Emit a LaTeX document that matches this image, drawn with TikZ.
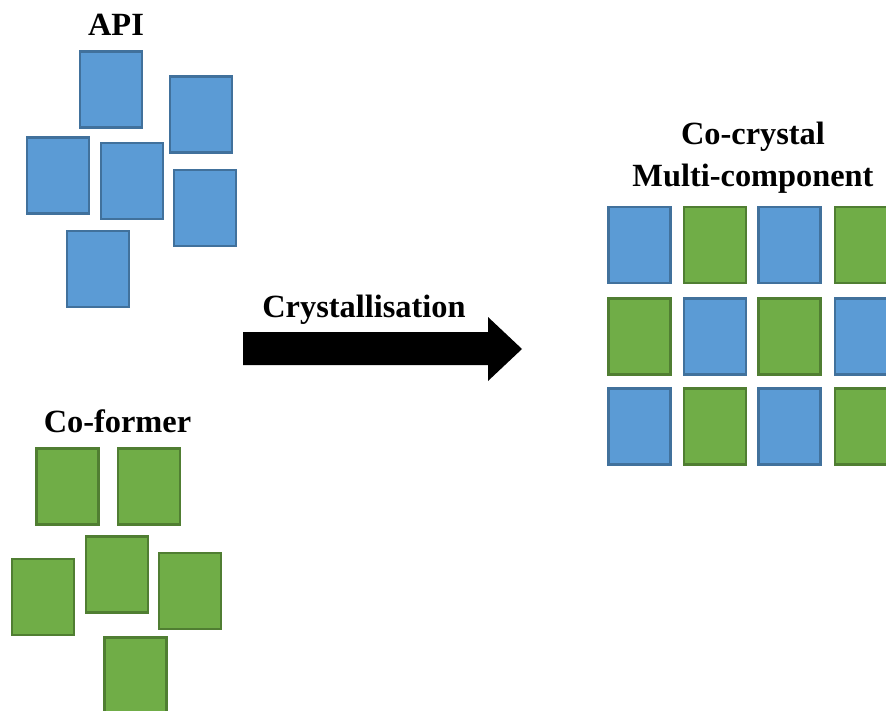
\documentclass[tikz,border=0pt]{standalone}
\usepackage{fontspec}
\setmainfont{Liberation Serif}
\definecolor{apifill}{HTML}{5B9BD5}
\definecolor{apiedge}{HTML}{41719C}
\definecolor{cofill}{HTML}{70AD47}
\definecolor{coedge}{HTML}{507E32}
\begin{document}
\begin{tikzpicture}[x=1bp,y=-1bp,
  sq/.style={line width=2.2bp, minimum width=62bp, minimum height=76bp, inner sep=0pt, outer sep=0pt},
  bsq/.style={sq, draw=apiedge, fill=apifill},
  gsq/.style={sq, draw=coedge, fill=cofill},
  lbl/.style={font=\bfseries\fontsize{32.5}{41}\selectfont, inner sep=0pt, anchor=base}]
\useasboundingbox (0,0) rectangle (886,711);
\clip (0,0) rectangle (886,711);
% labels
\node[lbl] (api) at (116,36) {API};
\node[lbl] (coformer) at (117.5,432) {Co-former};
\node[lbl] (cryst) at (364,317) {Crystallisation};
\node[lbl] (cocrystal) at (753,145) {Co-crystal};
\node[lbl] (multi) at (753,186) {Multi-component};
% API molecules
\node[bsq] (a1) at (111,89.5) {};
\node[bsq] (a2) at (201,114.5) {};
\node[bsq] (a3) at (58,175.5) {};
\node[bsq] (a4) at (132,181) {};
\node[bsq] (a5) at (205,208) {};
\node[bsq] (a6) at (98,269) {};
% co-former molecules
\node[gsq] (c1) at (67.5,486.5) {};
\node[gsq] (c2) at (149,486.5) {};
\node[gsq] (c3) at (117,574.5) {};
\node[gsq] (c4) at (43,597) {};
\node[gsq] (c5) at (190,591) {};
\node[gsq] (c6) at (135.5,675.5) {};
% arrow
\fill[black] (243,332) -- (488,332) -- (488,317) -- (522,349) -- (488,381) -- (488,365) -- (243,365) -- cycle;
% co-crystal grid
\node[bsq] (g11) at (639.5,245) {};
\node[gsq] (g12) at (715,245) {};
\node[bsq] (g13) at (789.5,245) {};
\node[gsq] (g14) at (866,245) {};
\node[gsq] (g21) at (639.5,336.5) {};
\node[bsq] (g22) at (715,336.5) {};
\node[gsq] (g23) at (789.5,336.5) {};
\node[bsq] (g24) at (866,336.5) {};
\node[bsq] (g31) at (639.5,426.5) {};
\node[gsq] (g32) at (715,426.5) {};
\node[bsq] (g33) at (789.5,426.5) {};
\node[gsq] (g34) at (866,426.5) {};
\end{tikzpicture}
\end{document}
